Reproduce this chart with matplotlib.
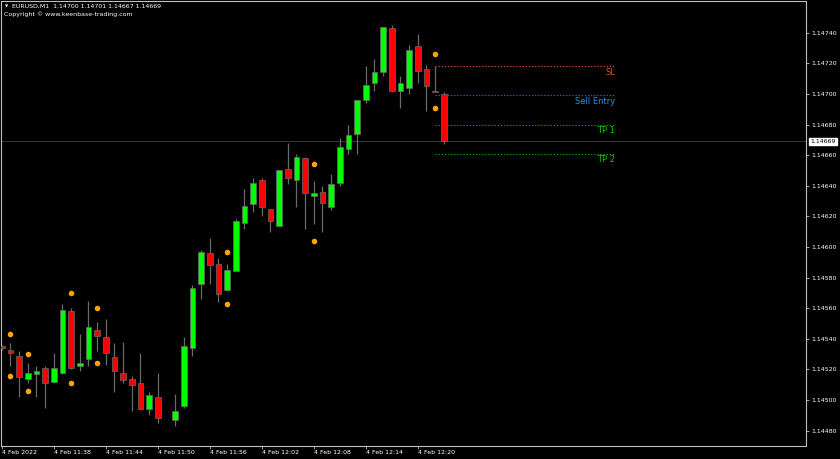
import numpy as np
import matplotlib
matplotlib.use('Agg')
import matplotlib.pyplot as plt

nan = np.nan

# EURUSD M1, 4 Feb 2022, one value per bar (bar 19 is empty on the chart)
opens = [1.14535, 1.14533, 1.14529, 1.14514, 1.14517, 1.14521, 1.14512, 1.14518, 1.14558, 1.14522,
         1.14527, 1.14546, 1.14541, 1.14528, 1.14518, 1.14514, 1.14511, 1.14494, 1.14502, nan,
         1.14487, 1.14496, 1.14534, 1.14576, 1.14596, 1.14589, 1.14572, 1.14584, 1.14616, 1.14628,
         1.14644, 1.14625, 1.14614, 1.14651, 1.14644, 1.14658, 1.14633, 1.14636, 1.14626, 1.14642,
         1.14664, 1.14674, 1.14696, 1.14707, 1.14714, 1.14743, 1.14702, 1.14704, 1.14731, 1.14716,
         1.14702, 1.14700]
highs = [1.14536, 1.14537, 1.14532, 1.14524, 1.14522, 1.14522, 1.14531, 1.14563, 1.14560, 1.14543,
         1.14565, 1.14551, 1.14553, 1.14537, 1.14538, 1.14516, 1.14531, 1.14505, 1.14518, nan,
         1.14504, 1.14541, 1.14575, 1.14598, 1.14606, 1.14593, 1.14589, 1.14618, 1.14638, 1.14645,
         1.14645, 1.14625, 1.14650, 1.14668, 1.14661, 1.14659, 1.14643, 1.14640, 1.14648, 1.14671,
         1.14680, 1.14696, 1.14718, 1.14723, 1.14744, 1.14745, 1.14712, 1.14732, 1.14739, 1.14719,
         1.14718, 1.14701]
lows = [1.14533, 1.14522, 1.14502, 1.14511, 1.14502, 1.14495, 1.14511, 1.14517, 1.14520, 1.14519,
        1.14522, 1.14532, 1.14523, 1.14505, 1.14511, 1.14493, 1.14494, 1.14490, 1.14485, nan,
        1.14483, 1.14495, 1.14529, 1.14566, 1.14576, 1.14564, 1.14571, 1.14584, 1.14612, 1.14623,
        1.14620, 1.14610, 1.14614, 1.14641, 1.14626, 1.14612, 1.14615, 1.14610, 1.14624, 1.14640,
        1.14661, 1.14661, 1.14694, 1.14702, 1.14712, 1.14702, 1.14691, 1.14700, 1.14707, 1.14689,
        1.14701, 1.14667]
closes = [1.14534, 1.14531, 1.14515, 1.14518, 1.14519, 1.14511, 1.14521, 1.14559, 1.14521, 1.14524,
          1.14548, 1.14542, 1.14531, 1.14519, 1.14513, 1.14510, 1.14494, 1.14503, 1.14488, nan,
          1.14493, 1.14535, 1.14573, 1.14597, 1.14588, 1.14569, 1.14585, 1.14617, 1.14627, 1.14642,
          1.14626, 1.14617, 1.14650, 1.14645, 1.14659, 1.14635, 1.14635, 1.14629, 1.14641, 1.14665,
          1.14673, 1.14696, 1.14706, 1.14714, 1.14744, 1.14702, 1.14707, 1.14729, 1.14715, 1.14705,
          1.14701, 1.14669]

# orange indicator dots (bar index, upper, lower)
dot_bars = [1, 3, 8, 11, 26, 36, 50]
dot_upper = [1.14543, 1.14530, 1.14570, 1.14560, 1.14597, 1.14654, 1.14726]
dot_lower = [1.14516, 1.14506, 1.14511, 1.14524, 1.14563, 1.14604, 1.14691]

# trade levels
level_names = ['SL', 'Sell Entry', 'TP 1', 'TP 2']
level_prices = [1.14718, 1.14699, 1.14680, 1.14661]
level_line_colors = ['#c0502a', '#1e6ec8', '#00a000', '#00a000']
level_text_colors = ['#e0502a', '#1e90ff', '#00c800', '#00c800']
level_start = 50
level_end = 70.8

time_tick_bars = [0, 6, 12, 18, 24, 30, 36, 42, 48]
time_tick_labels = ['4 Feb 2022', '4 Feb 11:38', '4 Feb 11:44', '4 Feb 11:50', '4 Feb 11:56',
                    '4 Feb 12:02', '4 Feb 12:08', '4 Feb 12:14', '4 Feb 12:20']
price_ticks = [1.14480 + 0.0002 * k for k in range(14)]
last_price = 1.14669

plt.rcParams['font.family'] = ['DejaVu Sans']
FG = '#c0c0c0'

fig = plt.figure(figsize=(8.4, 4.59), dpi=100, facecolor='black')
ax = fig.add_axes([1 / 840, 13 / 459, 805 / 840, 445 / 459], facecolor='black')

o = np.array(opens)
h = np.array(highs)
l = np.array(lows)
c = np.array(closes)
idx = np.arange(len(o))
ok = ~np.isnan(o)
up = ok & (c >= o)
dn = ok & (c < o)

ax.vlines(idx[ok], l[ok], h[ok], color='#6a6a6a', lw=0.9, zorder=2)
ax.bar(idx[up], c[up] - o[up], bottom=o[up], width=0.66, color='#00ff00',
       edgecolor='#6a6a6a', linewidth=0.5, zorder=3)
ax.bar(idx[dn], o[dn] - c[dn], bottom=c[dn], width=0.66, color='#ff0000',
       edgecolor='#6a6a6a', linewidth=0.5, zorder=3)

ax.plot(dot_bars, dot_upper, 'o', color='#ffa500', ms=4, mec='none', zorder=4)
ax.plot(dot_bars, dot_lower, 'o', color='#ffa500', ms=4, mec='none', zorder=4)

# current price line
ax.axhline(last_price, color='#353535', lw=0.8, zorder=1)

for name, p, lc, tc in zip(level_names, level_prices, level_line_colors, level_text_colors):
    ax.hlines(p, level_start, level_end - 0.2, colors=lc, linestyles=(0, (1.2, 1.6)), lw=0.8, zorder=2)
    ax.annotate(name, (level_end, p), xytext=(0, -1), textcoords='offset points',
                ha='right', va='top', color=tc, fontsize=6)

ax.set_xlim(-0.08, -0.08 + 805 / 8.667)
ax.set_ylim(1.144700, 1.147607)

ax.yaxis.tick_right()
ax.set_yticks(price_ticks)
ax.set_yticklabels([f'{p:.5f}' for p in price_ticks])
ax.tick_params(axis='y', colors=FG, labelcolor='white', labelsize=4.5, length=2, width=0.6, pad=2)

ax.set_xticks(time_tick_bars)
ax.set_xticklabels(time_tick_labels, ha='left')
ax.tick_params(axis='x', colors=FG, labelcolor='white', labelsize=4.5, length=2, width=0.6, pad=1)

for side in ['left', 'right', 'bottom', 'top']:
    ax.spines[side].set_color(FG)
    ax.spines[side].set_linewidth(0.8)

# price label on the axis
ax.annotate(f'{last_price:.5f}', (1.0, last_price), xycoords=('axes fraction', 'data'),
            xytext=(3, 0), textcoords='offset points', ha='left', va='center',
            fontsize=4.5, color='black',
            bbox=dict(boxstyle='square,pad=0.15', fc='white', ec='white'))

fig.text(5 / 840, 1 - 6 / 459, '\u25bc', color='white', fontsize=3, va='center', ha='left')
fig.text(12 / 840, 1 - 6 / 459, 'EURUSD,M1  1.14700 1.14701 1.14667 1.14669',
         color='white', fontsize=4.5, va='center', ha='left')
fig.text(4 / 840, 1 - 14 / 459, 'Copyright \u00a9 www.keenbase-trading.com',
         color='white', fontsize=4.5, va='center', ha='left')

fig.savefig('out.png', dpi=100, facecolor='black')
